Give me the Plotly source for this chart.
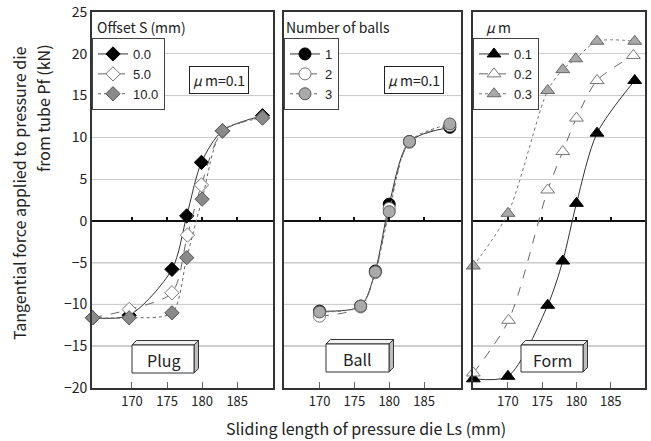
import plotly.graph_objects as go

# ---------------- data ----------------
# Panel 1 : Plug, offset S (mm)
plug_x_00 = [164.4, 169.6, 175.7, 177.8, 179.9, 182.9, 188.6]
plug_y_00 = [-11.6, -11.3, -5.8, 0.6, 7.0, 10.8, 12.6]
plug_x_50 = [164.4, 169.6, 175.7, 177.9, 179.9, 182.9, 188.6]
plug_y_50 = [-11.6, -10.6, -8.6, -1.7, 4.3, 10.7, 12.4]
plug_x_100 = [164.4, 169.6, 175.7, 177.8, 180.0, 182.9, 188.6]
plug_y_100 = [-11.6, -11.6, -11.0, -4.4, 2.6, 10.8, 12.3]

# Panel 2 : Ball, number of balls
ball_x = [170.0, 175.9, 178.0, 180.0, 182.9, 188.7]
ball_y_1 = [-10.8, -10.2, -6.0, 2.0, 9.5, 11.2]
ball_y_2 = [-11.4, -10.3, -6.2, 1.5, 9.4, 11.4]
ball_y_3 = [-10.9, -10.2, -6.1, 1.1, 9.5, 11.6]

# Panel 3 : Form, friction coefficient mu m
form_x_01 = [164.95, 170.0, 175.8, 178.0, 180.0, 183.0, 188.5]
form_y_01 = [-18.9, -18.6, -10.1, -4.8, 2.1, 10.5, 16.8]
form_x_02 = [164.95, 170.1, 175.8, 178.0, 180.0, 183.0, 188.3]
form_y_02 = [-18.2, -11.9, 3.7, 8.3, 12.3, 16.8, 19.8]
form_x_03 = [164.95, 170.0, 175.8, 178.0, 179.9, 183.0, 188.5]
form_y_03 = [-5.4, 0.9, 15.6, 18.1, 19.4, 21.5, 21.5]

x_ticks = [170, 175, 180, 185]
y_range = [-20, 25]

# ---------------- helpers ----------------
W, H = 651, 441
FONT = "Noto Sans CJK JP, Noto Sans, sans-serif"
LEGFONT = "Liberation Sans, Arial, sans-serif"


def pxx(v):
    """window pixel x -> paper fraction"""
    return v / W


def pxy(v):
    """window pixel y -> paper fraction"""
    return 1 - v / H


fig = go.Figure()


def series(x, y, name, xa, ya, legend, symbol, fill, edge, dash, lcol, size):
    fig.add_trace(go.Scatter(
        x=x, y=y, name=name, xaxis=xa, yaxis=ya, legend=legend,
        mode="lines+markers", cliponaxis=False,
        line=dict(color=lcol, width=1, dash=dash, shape="spline", smoothing=0.8),
        marker=dict(symbol=symbol, size=size, color=fill,
                    line=dict(color=edge, width=1)),
        hoverinfo="skip",
    ))


# Plug
series(plug_x_00, plug_y_00, "0.0", "x", "y", "legend", "diamond", "#000000", "#000000", "solid", "#333333", 11)
series(plug_x_50, plug_y_50, "5.0", "x", "y", "legend", "diamond", "#ffffff", "#777777", "dash", "#666666", 11)
series(plug_x_100, plug_y_100, "10.0", "x", "y", "legend", "diamond", "#8a8a8a", "#555555", "dot", "#666666", 11)
# Ball
series(ball_x, ball_y_1, "1", "x2", "y2", "legend2", "circle", "#000000", "#000000", "solid", "#333333", 12)
series(ball_x, ball_y_2, "2", "x2", "y2", "legend2", "circle", "#ffffff", "#777777", "dash", "#666666", 12)
series(ball_x, ball_y_3, "3", "x2", "y2", "legend2", "circle", "#aaaaaa", "#555555", "dot", "#666666", 12)
# Form
series(form_x_01, form_y_01, "0.1", "x3", "y3", "legend3", "triangle-up", "#000000", "#000000", "solid", "#333333", 12)
series(form_x_02, form_y_02, "0.2", "x3", "y3", "legend3", "triangle-up", "#ffffff", "#777777", "dash", "#666666", 12)
series(form_x_03, form_y_03, "0.3", "x3", "y3", "legend3", "triangle-up", "#a8a8a8", "#666666", "dot", "#777777", 12)

# dummy traces registering the zero-line tick axes
for xa, ya in (("x4", "y"), ("x5", "y2"), ("x6", "y3")):
    fig.add_trace(go.Scatter(x=[], y=[], xaxis=xa, yaxis=ya, showlegend=False, hoverinfo="skip"))

panels = [((92, 273), [164.3, 190.1]), ((284, 461), [164.9, 190.3]), ((473, 645), [164.9, 190.0])]
ydom = [pxy(388), pxy(12)]
zero_pos = ydom[0] + (0 - y_range[0]) / (y_range[1] - y_range[0]) * (ydom[1] - ydom[0])

layout = dict(
    width=W, height=H, margin=dict(l=0, r=0, t=0, b=0, pad=0, autoexpand=False),
    paper_bgcolor="white", plot_bgcolor="white",
    font=dict(family=FONT, size=14, color="#222222"),
    showlegend=True,
)
for i, ((a, b), rng) in enumerate(panels, start=1):
    sx = "" if i == 1 else str(i)
    layout["xaxis" + sx] = dict(
        domain=[pxx(a), pxx(b)], range=rng, anchor="y" + sx, automargin=False,
        tickvals=x_ticks, ticks="inside", ticklen=6, tickcolor="#666666", tickwidth=1,
        showline=True, mirror=True, linecolor="#333333", linewidth=2,
        showgrid=False, zeroline=False, tickfont=dict(size=13, color="#222222"),
        ticklabeloverflow="allow",
    )
    layout["yaxis" + sx] = dict(
        domain=ydom, range=y_range, anchor="x" + sx, dtick=5, tick0=0, automargin=False,
        showticklabels=(i == 1), ticks="", ticklabeloverflow="allow",
        showline=True, mirror=True, linecolor="#333333", linewidth=2,
        showgrid=True, gridcolor="#cccccc", gridwidth=1,
        zeroline=True, zerolinecolor="#111111", zerolinewidth=2,
        tickfont=dict(size=14, color="#222222"),
    )
    layout["xaxis" + str(i + 3)] = dict(
        domain=[pxx(a), pxx(b)], range=rng, overlaying="x" + sx, anchor="free",
        position=zero_pos, side="bottom", automargin=False,
        tickvals=x_ticks, ticks="inside", ticklen=4, tickcolor="#111111", tickwidth=1.5,
        showticklabels=False, showline=False, showgrid=False, zeroline=False,
    )

leg_common = dict(xanchor="left", yanchor="top", bgcolor="white", bordercolor="#444444",
                  borderwidth=1, font=dict(size=13, color="#222222", family=LEGFONT),
                  tracegroupgap=0, itemclick=False, itemdoubleclick=False)
layout["legend"] = dict(x=pxx(92), y=pxy(38), **leg_common)
layout["legend2"] = dict(x=pxx(284), y=pxy(38), **leg_common)
layout["legend3"] = dict(x=pxx(473), y=pxy(38), **leg_common)

fig.update_layout(**layout)

# darker grid lines
for ya, xd in (("y", "x domain"), ("y2", "x2 domain"), ("y3", "x3 domain")):
    for v, col in ((15, "#9a9a9a"), (-5, "#555555"), (-10, "#666666"), (-15, "#555555")):
        fig.add_shape(type="line", xref=xd, yref=ya, x0=0, x1=1, y0=v, y1=v,
                      line=dict(color=col, width=1), layer="below")

annotations = []
# legend titles
for txt, x in (("Offset S (mm)", 95), ("Number of balls", 284), ("<i>μ</i> m", 484)):
    annotations.append(dict(text=txt, x=pxx(x), y=pxy(27), xref="paper", yref="paper",
                            xanchor="left", yanchor="middle", showarrow=False,
                            font=dict(size=14, color="#222222")))
# mu m boxes
for cx in (219, 414):
    annotations.append(dict(text="<i>μ</i> m=0.1", x=pxx(cx), y=pxy(80), xref="paper", yref="paper",
                            xanchor="center", yanchor="middle", showarrow=False,
                            bordercolor="#222222", borderwidth=1, borderpad=3, bgcolor="white",
                            font=dict(size=14, color="#222222")))

# 3D label boxes
def box3d(x0, y0, x1, y1, d, text):
    def P(x, y):
        return f"{pxx(x):.5f},{pxy(y):.5f}"
    fig.add_shape(type="path", xref="paper", yref="paper",
                  path=f"M{P(x0, y0)} L{P(x0 + d, y0 - d)} L{P(x1 + d, y0 - d)} L{P(x1, y0)} Z",
                  fillcolor="#f2f2f2", line=dict(color="#333333", width=1))
    fig.add_shape(type="path", xref="paper", yref="paper",
                  path=f"M{P(x1, y0)} L{P(x1 + d, y0 - d)} L{P(x1 + d, y1 - d)} L{P(x1, y1)} Z",
                  fillcolor="#bdbdbd", line=dict(color="#333333", width=1))
    fig.add_shape(type="rect", xref="paper", yref="paper",
                  x0=pxx(x0), x1=pxx(x1), y0=pxy(y1), y1=pxy(y0),
                  fillcolor="white", line=dict(color="#333333", width=1))
    annotations.append(dict(text=text, x=pxx((x0 + x1) / 2), y=pxy((y0 + y1) / 2 + 1),
                            xref="paper", yref="paper", xanchor="center", yanchor="middle",
                            showarrow=False, font=dict(size=16, color="#222222")))

box3d(132, 345, 194, 373, 4.5, "Plug")
box3d(326, 344, 389, 372, 4.5, "Ball")
box3d(521, 345, 583, 372, 4.5, "Form")

# axis titles
annotations.append(dict(text="Tangential force applied to pressure die", x=pxx(19), y=pxy(193),
                        xref="paper", yref="paper", textangle=-90, showarrow=False,
                        xanchor="center", yanchor="middle", font=dict(size=16, color="#222222")))
annotations.append(dict(text="from tube Pf (kN)", x=pxx(43), y=pxy(108),
                        xref="paper", yref="paper", textangle=-90, showarrow=False,
                        xanchor="center", yanchor="middle", font=dict(size=16, color="#222222")))
annotations.append(dict(text="Sliding length of pressure die Ls (mm)", x=pxx(366), y=pxy(428),
                        xref="paper", yref="paper", showarrow=False,
                        xanchor="center", yanchor="middle", font=dict(size=16, color="#222222")))

fig.update_layout(annotations=annotations)
# remove the browser's default 8px body margin so the figure fills the window exactly
fig.write_html("out.html", config={"displayModeBar": False},
               post_script="document.body.style.margin='0';")
